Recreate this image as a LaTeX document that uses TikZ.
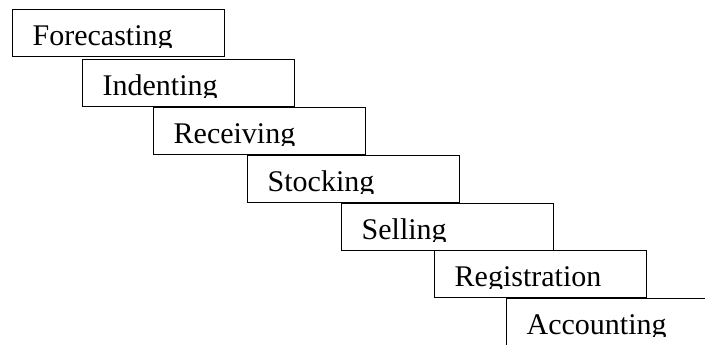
\documentclass[tikz,border=0pt]{standalone}
\usepackage{fontspec}
\setmainfont{Liberation Serif}
\usepackage{trimclip}
\usepackage{tikz}

\begin{document}
\begin{tikzpicture}[x=0.75pt, y=-0.75pt,
                % Style of one step (word sits low, its descenders are cut off)
                stepbox/.style={rectangle, draw=black, line width=1pt, anchor=north west,
                    inner xsep=15pt, inner ysep=0pt, text width=129pt, align=left,
                    text height=27pt, text depth=8.25pt, font=\fontsize{22.5}{27}\selectfont}
            ]
                \useasboundingbox (0, 0) rectangle (705, 344);

                % --- STEPS ---
                \node[stepbox] (forecast) at (12, 9) {\clipbox{0pt 3.4pt 0pt 0pt}{Forecasting}};
                \node[stepbox] (indent) at (82, 59) {\clipbox{0pt 3.4pt 0pt 0pt}{Indenting}};
                \node[stepbox] (receive) at (153, 107) {\clipbox{0pt 3.4pt 0pt 0pt}{Receiving}};
                \node[stepbox] (stock) at (247, 155) {\clipbox{0pt 3.4pt 0pt 0pt}{Stocking}};
                \node[stepbox] (sell) at (341, 203) {\clipbox{0pt 3.4pt 0pt 0pt}{Selling}};
                \node[stepbox] (register) at (434, 250) {\clipbox{0pt 3.4pt 0pt 0pt}{Registration}};

                % Last step runs off the page
                \node[stepbox] (account) at (506, 298) {\clipbox{0pt 3.4pt 0pt 0pt}{Accounting}};

            \end{tikzpicture}
\end{document}
